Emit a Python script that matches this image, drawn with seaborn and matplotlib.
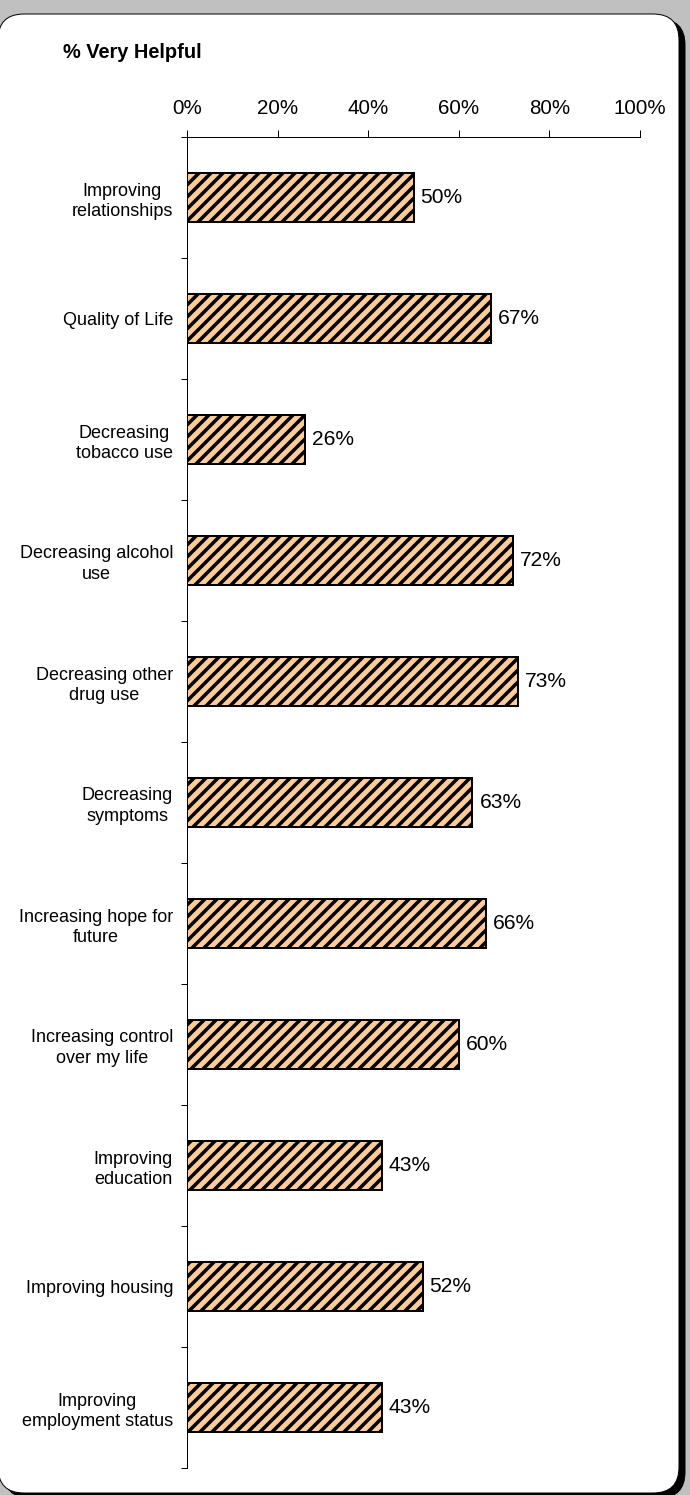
import matplotlib
matplotlib.use("Agg")
import matplotlib.pyplot as plt
import matplotlib.patches as mpatches
from matplotlib.transforms import IdentityTransform
import pandas as pd
import seaborn as sns

# data
categories = [
    "Improving\nrelationships",
    "Quality of Life",
    "Decreasing\ntobacco use",
    "Decreasing alcohol\nuse",
    "Decreasing other\ndrug use",
    "Decreasing\nsymptoms",
    "Increasing hope for\nfuture",
    "Increasing control\nover my life",
    "Improving\neducation",
    "Improving housing",
    "Improving\nemployment status",
]
values = [50, 67, 26, 72, 73, 63, 66, 60, 43, 52, 43]
tick_values = [0, 20, 40, 60, 80, 100]
tick_labels = ["0%", "20%", "40%", "60%", "80%", "100%"]
title = "% Very Helpful"

W, H, DPI = 690, 1495, 72

sns.set_style("white")
plt.rcParams["font.family"] = ["Liberation Sans", "DejaVu Sans"]
plt.rcParams["text.color"] = "black"
plt.rcParams["hatch.linewidth"] = 3.5
plt.rcParams["hatch.color"] = "black"

fig = plt.figure(figsize=(W / DPI, H / DPI), dpi=DPI, facecolor="#c0c0c0")

# rounded white panel with a black drop shadow (pixel coords, origin bottom-left)
px, py, pw, ph, rad = -2, 2, 681, 1479, 26
shadow = mpatches.FancyBboxPatch(
    (px + 6, py - 5), pw, ph, boxstyle=f"round,pad=0,rounding_size={rad}",
    transform=IdentityTransform(), facecolor="black", edgecolor="black",
    linewidth=1, zorder=-2)
panel = mpatches.FancyBboxPatch(
    (px, py), pw, ph, boxstyle=f"round,pad=0,rounding_size={rad}",
    transform=IdentityTransform(), facecolor="white", edgecolor="black",
    linewidth=1, zorder=-1)
fig.add_artist(shadow)
fig.add_artist(panel)

ax = fig.add_axes([187 / W, 27 / H, 453 / W, (1468 - 137) / H])
ax.set_facecolor("none")

df = pd.DataFrame({"item": categories, "pct": values})
sns.barplot(data=df, x="pct", y="item", orient="h", color="#ffcc99",
            saturation=1, width=0.4, edgecolor="black", linewidth=2,
            hatch="//", ax=ax)

ax.bar_label(ax.containers[0], fmt="%g%%", padding=7, fontsize=21,
             color="black")

ax.set_xlim(0, 100)
ax.set_ylim(10.5, -0.5)
ax.set_xlabel("")
ax.set_ylabel("")

# top percentage axis
ax.xaxis.tick_top()
ax.set_xticks(tick_values, tick_labels)
ax.tick_params(axis="x", which="major", direction="out", length=7, width=1,
               pad=12, labelsize=20.5, top=True, bottom=False, colors="black")

# category labels at bar centres, small ticks between categories
ax.set_yticks(range(len(categories)), categories)
ax.set_yticks([i + 0.5 for i in range(-1, len(categories))], minor=True)
ax.tick_params(axis="y", which="major", length=0, pad=14, labelsize=18,
               left=True, labelcolor="black")
ax.tick_params(axis="y", which="minor", length=6, width=1, direction="out",
               left=True, color="black")
for lbl in ax.get_yticklabels():
    lbl.set_multialignment("center")
    lbl.set_linespacing(1.25)

for side in ["right", "bottom"]:
    ax.spines[side].set_visible(False)
for side in ["top", "left"]:
    ax.spines[side].set_color("black")
    ax.spines[side].set_linewidth(1)

fig.text(63 / W, 1 - 53 / H, title, fontsize=20, fontweight="bold",
         ha="left", va="center", color="black")

fig.savefig("out.png", dpi=DPI, facecolor=fig.get_facecolor())
